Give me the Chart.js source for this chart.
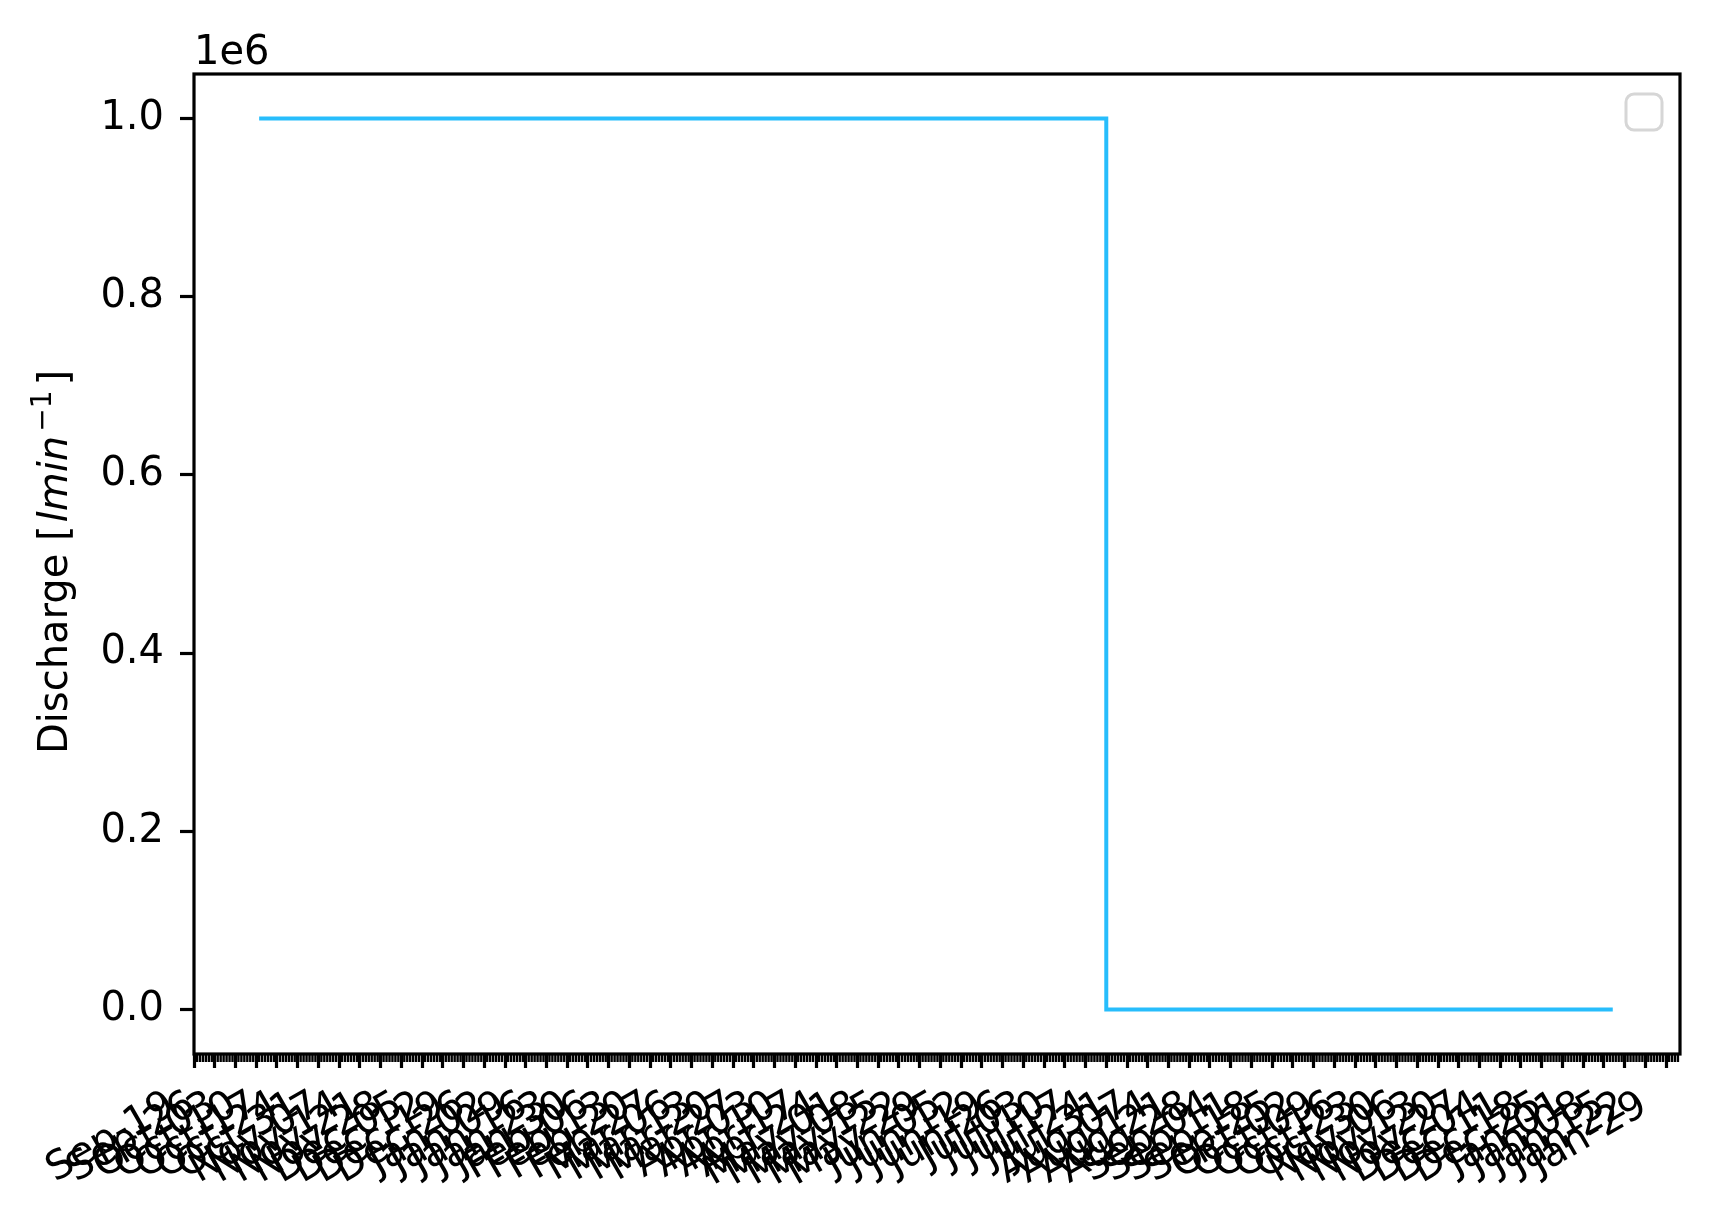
<!DOCTYPE html>
<html>
<head>
<meta charset="utf-8">
<script src="https://cdn.jsdelivr.net/npm/chart.js@4/dist/chart.umd.min.js"></script>
<style>
 body{margin:0;background:#fff;}
 canvas{display:block;}
</style>
</head>
<body>
<canvas id="c" width="1711" height="1226"></canvas>
<script>
/* ----- DATA ----- */
// weekly major tick labels (x axis counted in days from the first tick)
const weekLabels=[
 'Sep-19','Sep-26',
 'Oct-03','Oct-10','Oct-17','Oct-24','Oct-31',
 'Nov-07','Nov-14','Nov-21','Nov-28',
 'Dec-05','Dec-12','Dec-19','Dec-26',
 'Jan-02','Jan-09','Jan-16','Jan-23','Jan-30',
 'Feb-06','Feb-13','Feb-20','Feb-27',
 'Mar-06','Mar-13','Mar-20','Mar-27',
 'Apr-03','Apr-10','Apr-17','Apr-24',
 'May-01','May-08','May-15','May-22','May-29',
 'Jun-05','Jun-12','Jun-19','Jun-26',
 'Jul-03','Jul-10','Jul-17','Jul-24','Jul-31',
 'Aug-07','Aug-14','Aug-21','Aug-28',
 'Sep-04','Sep-11','Sep-18','Sep-25',
 'Oct-02','Oct-09','Oct-16','Oct-23','Oct-30',
 'Nov-06','Nov-13','Nov-20','Nov-27',
 'Dec-04','Dec-11','Dec-18','Dec-25',
 'Jan-01','Jan-08','Jan-15','Jan-22','Jan-29'
];
const stepDays=[22,308,479];
const discharge=[1000000,0,0];
const yTickValues=[0,200000,400000,600000,800000,1000000];

const FONT='"DejaVu Sans"';
const lineColor='#27bdfc';

/* ----- DECOR ----- */
const decor={
 id:'decor',
 afterDraw(chart){
  const {ctx,chartArea:a,scales:{x}}=chart;
  ctx.save();

  // daily minor ticks
  ctx.strokeStyle='#000';
  ctx.lineWidth=2.4;
  for(let d=Math.ceil(x.min);d<=x.max;d++){
   if(d%7===0) continue;
   const px=x.getPixelForValue(d);
   ctx.beginPath();
   ctx.moveTo(px,a.bottom);
   ctx.lineTo(px,a.bottom+8);
   ctx.stroke();
  }

  // frame
  ctx.lineWidth=3.2;
  ctx.strokeRect(a.left,a.top,a.right-a.left,a.bottom-a.top);

  // offset text
  ctx.fillStyle='#000';
  ctx.font='40px '+FONT;
  ctx.textAlign='left';
  ctx.textBaseline='alphabetic';
  ctx.fillText('1e6',a.left,a.top-10);

  // empty legend
  ctx.strokeStyle='#d6d6d6';
  ctx.lineWidth=3;
  ctx.beginPath();
  ctx.roundRect(a.right-54,a.top+20,36,36,8);
  ctx.stroke();

  // y title with math part
  const segs=[
   {t:'Discharge [',f:'40px '+FONT,dy:0,gap:3},
   {t:'lmin',f:'italic 40px '+FONT,dy:0,gap:4},
   {t:'\u22121',f:'28px '+FONT,dy:-16,gap:5},
   {t:']',f:'40px '+FONT,dy:0,gap:0}
  ];
  let w=0;
  segs.forEach(s=>{ctx.font=s.f;s.w=ctx.measureText(s.t).width+s.gap;w+=s.w;});
  ctx.translate(67,(a.top+a.bottom)/2-2);
  ctx.rotate(-Math.PI/2);
  let cx=-w/2;
  segs.forEach(s=>{ctx.font=s.f;ctx.fillText(s.t,cx,s.dy);cx+=s.w;});

  ctx.restore();
 }
};

/* ----- CHART ----- */
new Chart(document.getElementById('c'),{
 type:'line',
 data:{
  datasets:[{
   data:stepDays.map((d,i)=>({x:d,y:discharge[i]})),
   borderColor:lineColor,
   borderWidth:4,
   pointRadius:0,
   stepped:'before',
   fill:false
  }]
 },
 options:{
  responsive:false,
  animation:false,
  layout:{padding:{top:74,right:31,left:0,bottom:0}},
  plugins:{legend:{display:false},tooltip:{enabled:false}},
  scales:{
   x:{
    type:'linear',
    min:0,
    max:501.7,
    afterFit(s){s.height=172;},
    border:{display:false},
    grid:{drawOnChartArea:false,drawTicks:true,tickLength:14,tickWidth:3.2,tickColor:'#000'},
    ticks:{
     stepSize:7,
     includeBounds:false,
     autoSkip:false,
     minRotation:30,
     maxRotation:30,
     padding:14,
     labelOffset:-22,
     color:'#000',
     font:{family:'DejaVu Sans',size:40},
     callback:v=>weekLabels[Math.round(v/7)]??''
    }
   },
   y:{
    min:-50000,
    max:1050000,
    afterFit(s){s.width=194;},
    afterBuildTicks(s){s.ticks=yTickValues.map(v=>({value:v}));},
    border:{display:false},
    grid:{drawOnChartArea:false,drawTicks:true,tickLength:14,tickWidth:3.2,tickColor:'#000'},
    ticks:{
     padding:16,
     color:'#000',
     font:{family:'DejaVu Sans',size:40},
     callback:v=>(v/1000000).toFixed(1)
    }
   }
  }
 },
 plugins:[decor]
});
</script>
</body>
</html>
